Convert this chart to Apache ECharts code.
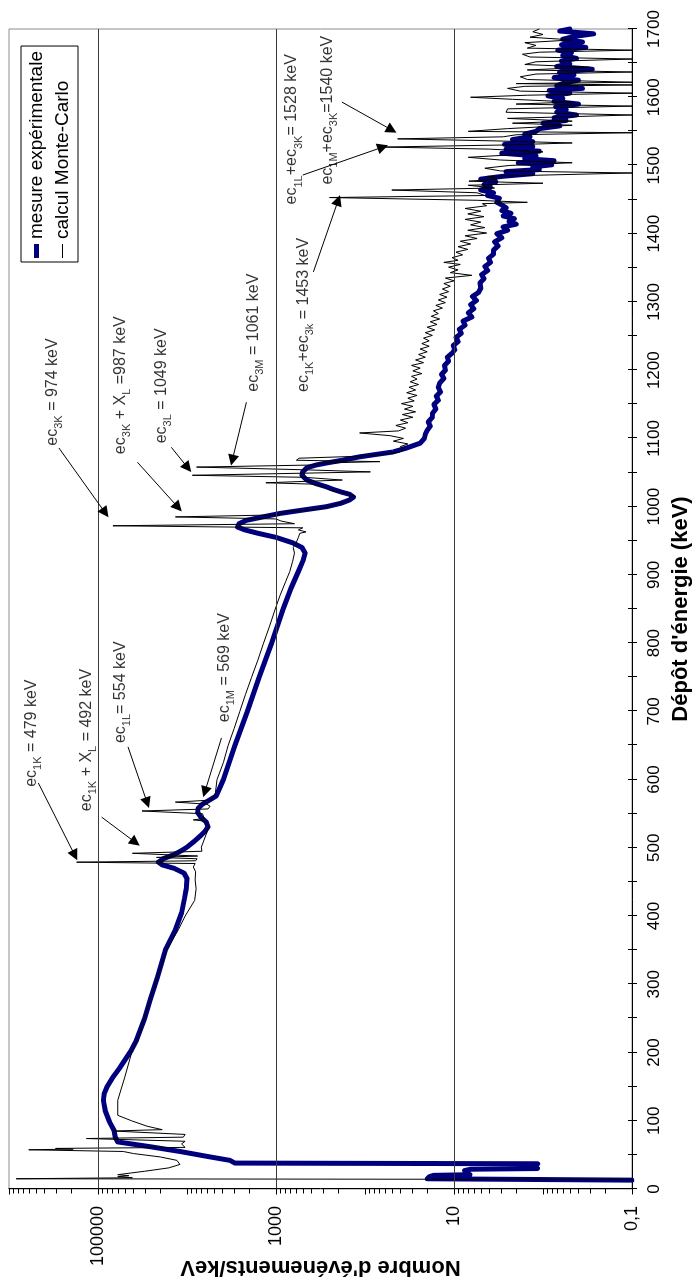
<!DOCTYPE html>
<html>
<head>
<meta charset="utf-8">
<script src="https://cdn.jsdelivr.net/npm/echarts@6.0.0/dist/echarts.min.js"></script>
<style>
  html, body { margin: 0; padding: 0; width: 697px; height: 1281px; overflow: hidden; background: #fff; }
  /* The spectrum is laid out landscape, then turned a quarter turn to stand upright on the page */
  #chart { position: absolute; left: 0; top: 0; width: 1281px; height: 697px;
           transform-origin: 0 0; transform: translate(0, 1281px) rotate(-90deg); }
</style>
</head>
<body>
<div id="chart"></div>
<script>
// ---------- Axis definitions ----------
const energyMin = 0;
const energyMax = 1700;
const energyStep = 100;
const energyTickStep = 50;
const countMin = 0.1;
const countMax = 1000000;
const countLabelValues = [0.1, 10, 1000, 100000];
const countLabelText = ['0,1', '10', '1000', '100000'];
const gridLineValues = [10, 1000, 100000];
const logDecades = [0.1, 1, 10, 100, 1000, 10000, 100000];
const logMultipliers = [1, 2, 3, 4, 5, 6, 7, 8, 9];

// ---------- Measured spectrum: [energy keV, events/keV] ----------
const mesureLow = [
  [13, 0.1], [15, 20], [18, 19], [20, 17], [21, 6.6], [24, 7.2], [27, 7.6], [29, 6.5],
  [30, 1.15], [34, 1.25], [37, 1.15], [38, 2900], [42, 3300], [47, 5500], [55, 12000],
  [62, 26000], [69, 60000], [76, 64000], [86, 66000], [98, 74000], [115, 83000],
  [130, 87000], [140, 85000], [150, 79000], [165, 67000], [179, 56000], [204, 42000], [218, 37000]
];
const mesureMid = [
  [250, 30000], [277, 26000], [310, 21500], [350, 17500], [380, 13500], [405, 11500],
  [425, 10700], [440, 10200], [455, 10000], [463, 10800], [470, 14000], [475, 19000],
  [479, 21000], [484, 18500], [490, 14000], [496, 11500], [501, 10000], [510, 8200],
  [518, 7000], [525, 6200], [531, 5800], [538, 6100], [545, 7000], [552, 7600], [558, 7500],
  [564, 6700], [570, 5600], [576, 4700], [600, 3900], [650, 2900], [700, 2100], [750, 1550],
  [800, 1120], [850, 830], [880, 680], [905, 560], [920, 500], [932, 470], [940, 510],
  [947, 650], [955, 1000], [961, 1600], [966, 2250], [970, 2700], [975, 2600], [980, 2150],
  [985, 1400], [990, 910], [995, 500], [1000, 270], [1005, 186], [1010, 148], [1014, 135],
  [1018, 148], [1021, 180], [1025, 225], [1029, 270], [1034, 360], [1039, 450], [1046, 510],
  [1051, 500], [1057, 450], [1061, 355], [1064, 270], [1068, 180], [1073, 115], [1077, 71],
  [1080, 49], [1086, 34], [1093, 24], [1100, 21.5], [1106, 21], [1112, 20]
];
const mesureHigh = [
  [1118, 18.5], [1124, 19.5], [1131, 17.5], [1137, 17.4], [1143, 16], [1150, 16.8], [1156, 15],
  [1162, 15.8], [1168, 14.2], [1175, 15], [1181, 14.5], [1188, 13], [1194, 13.8], [1200, 12.5],
  [1207, 12.8], [1213, 11.5], [1219, 11.9], [1225, 10.5], [1230, 9.8], [1236, 10.2], [1242, 9],
  [1248, 9.5], [1254, 8.3], [1260, 8.7], [1266, 7.5], [1272, 7.9], [1278, 6.3], [1284, 6.9],
  [1290, 6.0], [1296, 6.5], [1302, 5.6], [1308, 6.2], [1314, 5.3], [1320, 5.0], [1328, 5.1],
  [1334, 4.6], [1340, 4.9], [1346, 4.2], [1352, 4.5], [1358, 3.9], [1364, 4.1], [1370, 3.6],
  [1376, 3.6], [1382, 3.2], [1388, 3.5], [1394, 2.9], [1400, 3.3], [1405, 2.5], [1410, 2.8],
  [1414, 2.0], [1418, 2.4], [1422, 2.1], [1426, 2.8], [1430, 2.3], [1434, 2.9], [1438, 2.6],
  [1442, 2.9], [1446, 3.3], [1452, 3.1], [1456, 4.2], [1460, 3.6], [1464, 5.0], [1468, 3.9],
  [1472, 4.6], [1476, 3.4], [1480, 5.0], [1484, 2.9], [1488, 1.3], [1491, 2.6], [1494, 1.1],
  [1498, 1.3], [1501, 0.8], [1504, 1.9], [1507, 0.75], [1510, 1.6], [1514, 1.2], [1518, 2.9],
  [1521, 1.1], [1524, 2.6], [1528, 1.3], [1531, 2.7], [1535, 1.3], [1538, 2.2], [1542, 1.4],
  [1546, 1.6], [1550, 1.2], [1554, 1.1], [1558, 0.65], [1562, 1.0], [1566, 0.55], [1570, 0.75],
  [1574, 0.42], [1578, 0.7], [1582, 0.55], [1586, 0.72], [1590, 0.4], [1594, 0.75], [1598, 0.6],
  [1602, 0.88], [1606, 0.5], [1610, 0.85], [1613, 0.36], [1617, 0.7], [1621, 0.58], [1625, 0.4],
  [1629, 0.75], [1633, 0.45], [1637, 0.65], [1641, 0.28], [1645, 0.7], [1649, 0.5], [1653, 0.62],
  [1657, 0.42], [1661, 0.6], [1665, 0.48], [1669, 0.68], [1673, 0.33], [1677, 0.62], [1681, 0.36],
  [1685, 0.6], [1689, 0.45], [1693, 0.27], [1697, 0.65], [1700, 0.5]
];

// ---------- Monte-Carlo spectrum: [energy keV, events/keV] ----------
const calculLow = [
  [14, 0.1], [15, 830000], [16.5, 41000], [18, 60000], [19.5, 45000], [21, 60000], [26, 30000],
  [31, 16000], [36, 12000], [42, 13000], [47, 20000], [52, 40000], [55, 52000], [57.5, 600000],
  [58.5, 190000], [59.5, 300000], [61, 10500], [66, 11500], [70, 10500], [74, 135000], [76, 11000],
  [80, 10500], [85, 68000], [87, 19000], [92, 28000], [100, 42000], [108, 60000], [130, 60000],
  [164, 50000], [204, 41000], [218, 36000]
];
const calculMid = [
  [250, 30000], [277, 26000], [310, 21500], [350, 17000], [380, 12500], [400, 10500], [423, 8200],
  [440, 7900], [453, 8100], [465, 8000], [472, 8500], [477, 8100], [479, 174000], [481, 8000],
  [484, 7700], [486, 22000], [488, 7600], [492, 41000], [495, 6800], [501, 6900], [510, 6500],
  [522, 6000], [532, 5700], [539, 6200], [541, 8500], [543, 6400], [550, 6700], [554, 32000],
  [557, 5800], [561, 5500], [564, 6000], [567, 13500], [570, 5300], [574, 5100], [580, 4800],
  [600, 4600], [625, 3900], [650, 3450], [675, 2950], [700, 2550], [725, 2200], [750, 1880],
  [775, 1600], [800, 1380], [825, 1180], [850, 1020], [870, 900], [890, 780], [905, 700],
  [920, 650], [932, 620], [940, 640], [948, 590], [955, 560], [961, 540], [963, 460], [966, 560],
  [969, 500], [972, 68000], [975, 620], [979, 880], [982, 1000], [985, 13500], [988, 900],
  [992, 830], [996, 350], [999, 270], [1003, 220], [1008, 160], [1013, 150], [1016, 130],
  [1020, 165], [1024, 245], [1029, 290], [1033, 380], [1035, 1300], [1039, 180], [1043, 480],
  [1046, 8700], [1049, 520], [1051, 87], [1054, 470], [1058, 7800], [1061, 400], [1064, 290],
  [1066, 68], [1068, 590], [1071, 550], [1074, 110], [1077, 60], [1080, 41]
];
const calculHigh = [
  [1084, 36], [1088, 40], [1092, 33], [1096, 48], [1100, 37], [1104, 52], [1108, 115], [1111, 42],
  [1115, 35], [1119, 45], [1123, 33], [1127, 40], [1131, 29], [1135, 38], [1139, 27], [1143, 36],
  [1147, 29], [1151, 39], [1155, 28], [1159, 33], [1163, 26], [1167, 34], [1171, 27], [1175, 32],
  [1179, 25], [1183, 31], [1187, 26], [1191, 30], [1195, 23], [1199, 29], [1203, 24], [1207, 30],
  [1211, 22], [1215, 27], [1219, 21], [1223, 25], [1227, 20], [1231, 24], [1235, 19], [1239, 23],
  [1243, 19], [1247, 22], [1251, 17.5], [1255, 21], [1259, 16.5], [1263, 20], [1267, 15.5],
  [1271, 18.5], [1275, 14.5], [1279, 18], [1283, 15], [1287, 17], [1291, 13.5], [1295, 16],
  [1299, 12.5], [1303, 15], [1307, 12], [1311, 14.5], [1315, 11.5], [1319, 13.5], [1323, 11],
  [1327, 13], [1331, 10], [1335, 12.5], [1339, 6.3], [1343, 11], [1347, 9], [1351, 11.5],
  [1355, 8.5], [1358, 13], [1361, 9], [1365, 10.5], [1369, 8], [1373, 9.5], [1377, 7], [1381, 9],
  [1385, 6.5], [1389, 8.5], [1393, 5.5], [1397, 7.5], [1401, 4.3], [1405, 7], [1409, 4.5],
  [1413, 6.5], [1417, 5], [1421, 7.5], [1425, 4.6], [1429, 7], [1433, 5], [1437, 7.5],
  [1441, 4.3], [1444, 4.8], [1446, 1.5], [1449, 5.5], [1453, 250], [1456, 4.5], [1460, 5.5],
  [1464, 50], [1467, 3.5], [1471, 6.9], [1474, 1.0], [1477, 6.8], [1480, 3.3], [1484, 4.2],
  [1489, 0.1], [1492, 3.0], [1496, 4.5], [1500, 2.4], [1504, 0.47], [1508, 3.0], [1512, 6.9],
  [1516, 2.0], [1520, 1.0], [1524, 4.0], [1527, 63], [1530, 2.8], [1533, 0.47], [1536, 3.3],
  [1539, 43], [1542, 2.8], [1545, 2.0], [1548, 0.1], [1550, 6.9], [1554, 2.5], [1559, 0.47],
  [1562, 2.2], [1565, 0.47], [1569, 2.5], [1574, 0.1], [1578, 2.6], [1583, 2.5], [1587, 0.1],
  [1590, 2.0], [1593, 0.47], [1597, 2.2], [1600, 6.5], [1603, 1.5], [1606, 0.1], [1609, 1.8],
  [1613, 2.5], [1616, 1.6], [1618, 0.1], [1620, 2.0], [1622, 0.1], [1626, 1.5], [1630, 1.8],
  [1634, 1.2], [1637, 0.1], [1640, 1.5], [1644, 0.3], [1648, 1.6], [1652, 1.2], [1656, 0.1],
  [1659, 1.4], [1663, 1.7], [1666, 1.1], [1669, 0.1], [1672, 1.5], [1676, 1.2], [1680, 1.6],
  [1684, 0.47], [1688, 1.4], [1692, 1.0], [1696, 1.3], [1700, 1.1]
];

// ---------- Conversion-electron call-outs (data coordinates) ----------
const callouts = [
  { text: '{n|ec}{s|1K}{n| = 479 keV}',              at: [668, 562000], from: [595, 468000], to: [489, 182000] },
  { text: '{n|ec}{s|1K}{n| + X}{s|L}{n| = 492 keV}', at: [658, 135000], from: [545, 91000],  to: [508, 38000] },
  { text: '{n|ec}{s|1L}{n|= 554 keV}',               at: [728, 56000],  from: [648, 46000],  to: [566, 28000] },
  { text: '{n|ec}{s|1M}{n| = 569 keV}',              at: [764, 3800],   from: [661, 4100],   to: [582, 6300] },
  { text: '{n|ec}{s|3K}{n| = 974 keV}',              at: [1168, 324000], from: [1086, 275000], to: [991, 83000] },
  { text: '{n|ec}{s|3K}{n| + X}{s|L}{n| =987 keV}',  at: [1178, 56000], from: [1065, 36000], to: [999, 12600] },
  { text: '{n|ec}{s|3L}{n| = 1049 keV}',             at: [1177, 19500], from: [1087, 15000], to: [1057, 9800] },
  { text: '{n|ec}{s|3M}{n| = 1061 keV}',             at: [1255, 1800],  from: [1153, 2150],  to: [1068, 3100] },
  { text: '{n|ec}{s|1K}{n|+ec}{s|3k}{n| = 1453 keV}', at: [1281, 490],  from: [1344, 380],   to: [1449, 200] },
  { text: '{n|ec}{s|1L}{n|+ec}{s|3K}{n|= 1528 keV}', at: [1553, 660],   from: [1486, 500],   to: [1527, 63] },
  { text: '{n|ec}{s|1M}{n|+ec}{s|3K}{n|=1540 keV}',  at: [1581, 263],   from: [1593, 182],   to: [1552, 50] }
];

// ---------- Tick marks ----------
const countTicks = [];
logDecades.forEach(d => logMultipliers.forEach(m => {
  countTicks.push([energyMin, Number((d * m).toPrecision(3)), m === 1 ? 1 : 0]);
}));
countTicks.push([energyMin, countMax, 1]);
const energyTicks = [];
for (let e = energyMin; e <= energyMax; e += energyTickStep) energyTicks.push([e, countMin]);

const FONT = "'Liberation Sans', Arial, Helvetica, sans-serif";
const chart = echarts.init(document.getElementById('chart'), null, { width: 1281, height: 697, renderer: 'canvas' });

chart.setOption({
  animation: false,
  backgroundColor: '#fff',
  textStyle: { fontFamily: FONT, color: '#000' },
  grid: {
    left: 92, right: 29, top: 9, bottom: 65,
    outerBoundsMode: 'none', containLabel: false,
    show: true, borderColor: '#8c8c8c', borderWidth: 1, backgroundColor: 'transparent'
  },
  legend: {
    data: [
      { name: 'mesure expérimentale', icon: 'path://M0,0H14V5H0Z' },
      { name: 'calcul Monte-Carlo', icon: 'path://M0,0H14V1H0Z' }
    ],
    orient: 'vertical', left: 1019, top: 21,
    itemWidth: 14, itemHeight: 10, itemGap: 7,
    padding: [6, 5, 6, 4],
    borderColor: '#000', borderWidth: 1, borderRadius: 0, backgroundColor: '#fff',
    selectedMode: false,
    textStyle: { fontSize: 19, color: '#000', fontFamily: FONT }
  },
  xAxis: {
    type: 'value', min: energyMin, max: energyMax, interval: energyStep,
    axisLine: { show: true, onZero: false, lineStyle: { color: '#000', width: 1 } },
    axisTick: { show: false },
    splitLine: { show: false },
    axisLabel: { fontSize: 17, color: '#000', margin: 14, fontFamily: FONT, formatter: v => String(v) },
    name: "Dépôt d'énergie (keV)", nameLocation: 'middle', nameGap: 38, nameMoveOverlap: false,
    nameTextStyle: { fontSize: 22, fontWeight: 'bold', color: '#000', fontFamily: FONT }
  },
  yAxis: {
    type: 'log', logBase: 10, min: countMin, max: countMax,
    axisLine: { show: true, onZero: false, lineStyle: { color: '#000', width: 1 } },
    axisTick: { show: false },
    minorTick: { show: false },
    splitLine: { show: false },
    axisLabel: {
      fontSize: 18, color: '#000', margin: 17, fontFamily: FONT,
      formatter: v => {
        const i = countLabelValues.findIndex(t => Math.abs(Math.log10(v / t)) < 1e-6);
        return i >= 0 ? countLabelText[i] : '';
      }
    },
    name: "Nombre d'événements/keV", nameLocation: 'middle', nameGap: 67, nameMoveOverlap: false,
    nameTextStyle: { fontSize: 22, fontWeight: 'bold', color: '#000', fontFamily: FONT }
  },
  series: [
    {
      name: 'grille', type: 'line', data: [], silent: true, z: 1,
      markLine: {
        silent: true, symbol: 'none', animation: false,
        label: { show: false },
        lineStyle: { color: '#3a3a3a', width: 1, type: 'solid' },
        data: gridLineValues.map(v => ({ yAxis: v }))
      }
    },
    {
      name: 'mesure expérimentale', type: 'line', z: 2,
      data: mesureLow.concat(mesureMid, mesureHigh),
      symbol: 'none', showSymbol: false,
      lineStyle: { color: '#00007f', width: 5, join: 'round', cap: 'round' },
      itemStyle: { color: '#00007f' }
    },
    {
      name: 'calcul Monte-Carlo', type: 'line', z: 3,
      data: calculLow.concat(calculMid, calculHigh),
      symbol: 'none', showSymbol: false,
      lineStyle: { color: '#000', width: 1 },
      itemStyle: { color: '#000' }
    },
    {
      name: 'annotations', type: 'scatter', z: 5, silent: true,
      symbolSize: 0,
      data: callouts.map(c => c.at),
      label: {
        show: true, position: 'inside',
        formatter: p => callouts[p.dataIndex].text,
        rich: {
          n: { fontSize: 16, lineHeight: 18, color: '#000', fontFamily: FONT, verticalAlign: 'middle' },
          s: { fontSize: 11, lineHeight: 24, color: '#000', fontFamily: FONT, verticalAlign: 'bottom' }
        }
      },
      markLine: {
        silent: true, animation: false,
        symbol: ['none', 'triangle'], symbolSize: 11,
        label: { show: false },
        lineStyle: { color: '#000', width: 1, type: 'solid' },
        itemStyle: { color: '#000' },
        data: callouts.map(c => [{ coord: c.from }, { coord: c.to }])
      }
    },
    {
      name: 'graduations-comptage', type: 'custom', z: 6, silent: true, clip: false,
      data: countTicks,
      renderItem: (params, api) => {
        const p = api.coord([api.value(0), api.value(1)]);
        const len = api.value(2) ? 6 : 5;
        const x = Math.round(p[0]) + 0.5;
        const y = Math.round(p[1]) + 0.5;
        return { type: 'line', shape: { x1: x - len, y1: y, x2: x, y2: y }, style: { stroke: '#000', lineWidth: 1 } };
      }
    },
    {
      name: 'graduations-energie', type: 'custom', z: 6, silent: true, clip: false,
      data: energyTicks,
      renderItem: (params, api) => {
        const p = api.coord([api.value(0), api.value(1)]);
        const x = Math.round(p[0]) + 0.5;
        const y = Math.round(p[1]);
        return { type: 'line', shape: { x1: x, y1: y - 4, x2: x, y2: y + 5 }, style: { stroke: '#000', lineWidth: 1 } };
      }
    }
  ]
});
</script>
</body>
</html>
